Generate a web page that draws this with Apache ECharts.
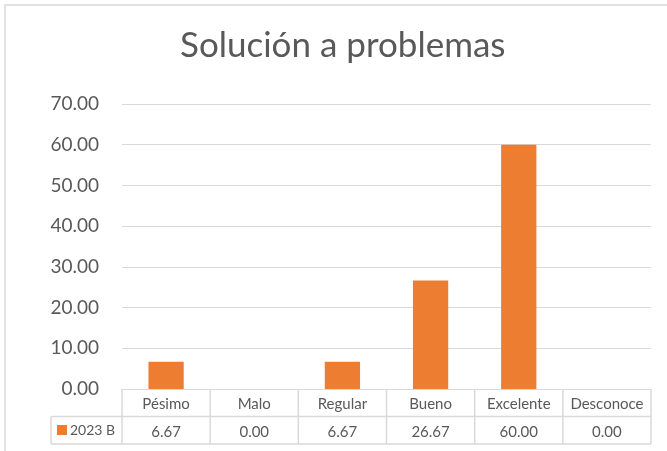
<!DOCTYPE html>
<html><head><meta charset="utf-8">
<script src="https://cdn.jsdelivr.net/npm/echarts@6/dist/echarts.min.js"></script>
<style>html,body{margin:0;padding:0;background:#fff}#c{width:667px;height:451px}</style>
</head><body><div id="c"></div>
<script>
const title = 'Solución a problemas';
const categories = ['Pésimo','Malo','Regular','Bueno','Excelente','Desconoce'];
const seriesName = '2023 B';
const values = [6.67, 0.00, 6.67, 26.67, 60.00, 0.00];
const yTicks = [0,10,20,30,40,50,60,70];

const FONT = 'Lato';
const TXT = '#595959';
const LINE = '#d9d9d9';
const ORANGE = '#ED7D31';

const chart = echarts.init(document.getElementById('c'), null, {renderer:'canvas'});
const option = {
  animation:false,
  backgroundColor:'#fff',
  textStyle:{fontFamily:FONT},
  title:{text:title,left:180,top:28,padding:0,textStyle:{fontFamily:FONT,fontSize:35,fontWeight:'normal',color:TXT}},
  grid:{left:122,right:16,top:104,bottom:62,containLabel:false},
  legend:{data:[seriesName],left:57,top:423,padding:0,itemWidth:10,itemHeight:10,itemGap:4,icon:'rect',
    textStyle:{fontFamily:FONT,fontSize:14,color:TXT,padding:[0,0,0,-2]}},
  xAxis:[
    {type:'category',data:categories,axisLine:{show:true,lineStyle:{color:LINE}},axisTick:{show:false},
     axisLabel:{interval:0,fontFamily:FONT,fontSize:15,color:TXT,margin:8}},
    {type:'category',data:values.map(v=>v.toFixed(2)),position:'bottom',offset:28,
     axisLine:{show:false},axisTick:{show:false},
     axisLabel:{interval:0,fontFamily:FONT,fontSize:15,color:TXT,margin:8}}
  ],
  yAxis:{type:'value',min:yTicks[0],max:yTicks[yTicks.length-1],interval:10,
    axisLine:{show:false},axisTick:{show:false},
    splitLine:{lineStyle:{color:LINE,width:1}},
    axisLabel:{fontFamily:FONT,fontSize:19,color:TXT,margin:23,formatter:v=>v.toFixed(2)}},
  series:[{name:seriesName,type:'bar',data:values,barWidth:'40%',itemStyle:{color:ORANGE}}]
};
chart.setOption(option);

// table lines from axis geometry
const x0 = chart.convertToPixel({xAxisIndex:0},categories[0]);
const x1 = chart.convertToPixel({xAxisIndex:0},categories[1]);
const bw = x1 - x0;
const left = x0 - bw/2, right = left + bw*categories.length;
const yTop = chart.convertToPixel({yAxisIndex:0},0);
const rowH = 27.5;
const legLeft = 51;
const g = [];
const ls = {stroke:LINE,lineWidth:1.5};
g.push({type:'rect',shape:{x:5,y:5,width:700,height:460},style:{fill:null,stroke:LINE,lineWidth:1.5},silent:true});
g.push({type:'line',shape:{x1:legLeft,y1:yTop+rowH,x2:right,y2:yTop+rowH},style:ls});
g.push({type:'line',shape:{x1:legLeft,y1:yTop+2*rowH,x2:right,y2:yTop+2*rowH},style:ls});
g.push({type:'line',shape:{x1:legLeft,y1:yTop+rowH,x2:legLeft,y2:yTop+2*rowH},style:ls});
for(let i=0;i<=categories.length;i++){
  const x = left + bw*i;
  g.push({type:'line',shape:{x1:x,y1:yTop,x2:x,y2:yTop+2*rowH},style:ls});
}
chart.setOption({graphic:g});
</script></body></html>
